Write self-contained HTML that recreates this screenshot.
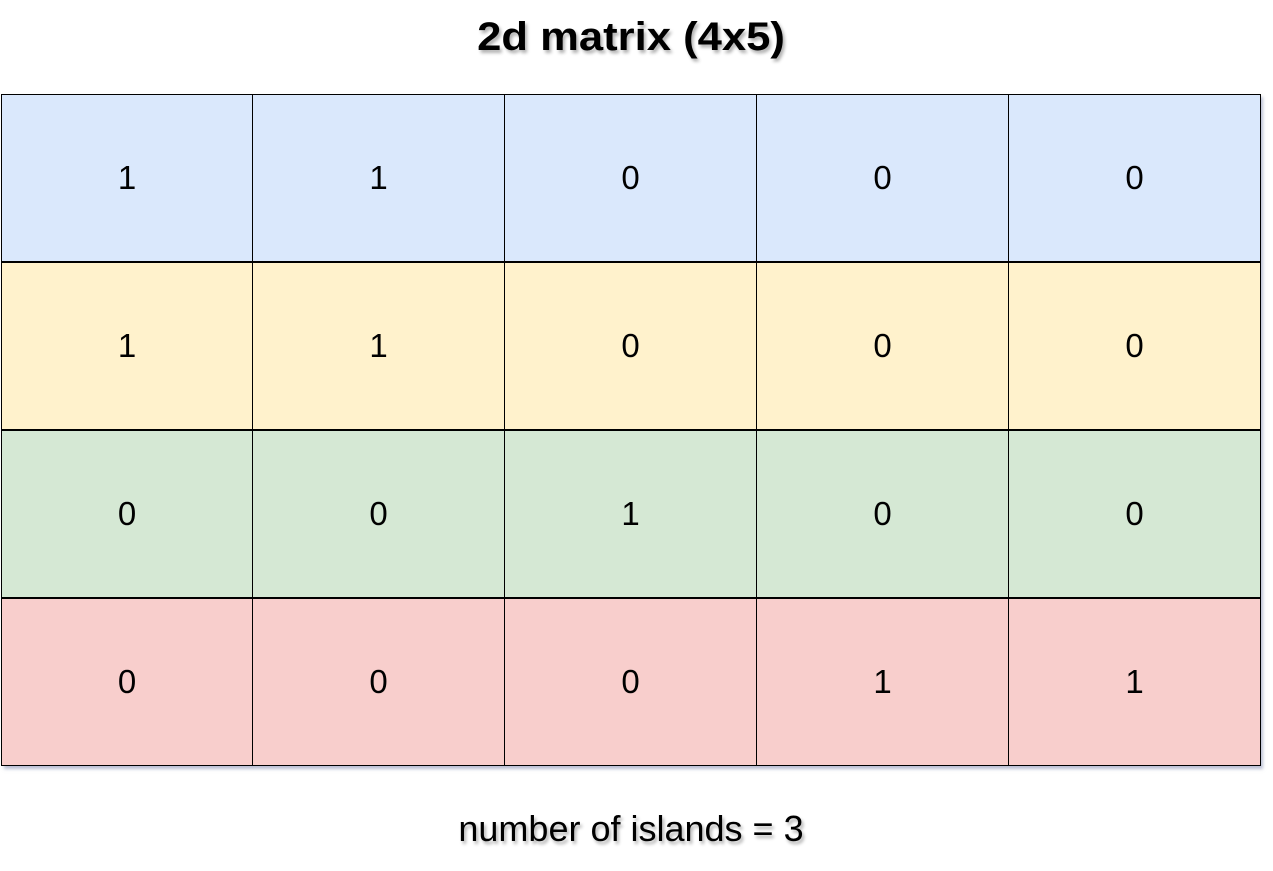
<!DOCTYPE html>
<html><head><style>
body{margin:0;width:1273px;height:871px;background:#fff;position:relative;font-family:"Liberation Sans",Arial,sans-serif;overflow:hidden}
.t{position:absolute;left:0;width:1262px;text-align:center;color:#000;text-shadow:2px 3px 3px rgba(0,0,0,0.3)}
.grid{position:absolute;left:1px;top:94px;width:1259px;height:672px;box-shadow:3px 3px 3px rgba(120,130,170,0.5)}
.c{position:absolute;width:252px;height:168px;box-sizing:border-box;border:1px solid #000;font-size:33px;display:flex;align-items:center;justify-content:center}
</style></head><body>
<div class="t" style="top:12px;font-size:40px;font-weight:bold;line-height:50px;transform:scaleX(1.09)">2d matrix (4x5)</div>
<div class="grid" id="g"></div>
<div class="t" style="top:808px;font-size:36px;line-height:42px">number of islands = 3</div>
<script>
var d=[[1,1,0,0,0],[1,1,0,0,0],[0,0,1,0,0],[0,0,0,1,1]],col=['#dae8fc','#fff2cc','#d5e8d4','#f8cecc'],g=document.getElementById('g'),h='';
for(var r=0;r<4;r++)for(var c=0;c<5;c++)h+='<div class="c" style="left:'+(c*252-(c?1:0))+'px;top:'+(r*168)+'px;width:'+(c?253:252)+'px;background:'+col[r]+'">'+d[r][c]+'</div>';
g.innerHTML=h;
</script>
</body></html>
